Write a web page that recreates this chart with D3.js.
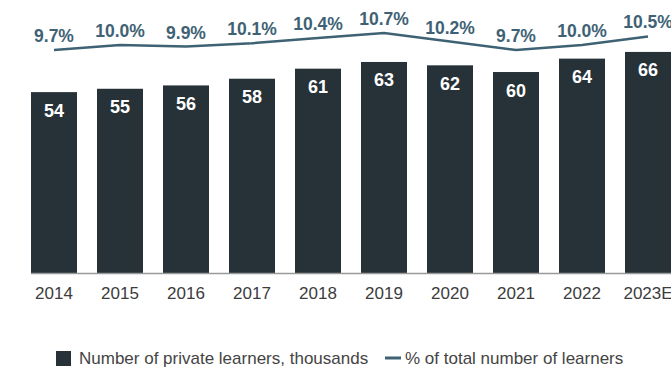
<!DOCTYPE html>
<html>
<head>
<meta charset="utf-8">
<script src="https://cdn.jsdelivr.net/npm/d3@7"></script>
<style>
  html, body { margin: 0; padding: 0; background: #fff; overflow: hidden; }
  svg { display: block; font-family: "Liberation Sans", Arial, Helvetica, sans-serif; }
</style>
</head>
<body>
<svg id="chart" width="671" height="370"></svg>
<script>
const years = ["2014","2015","2016","2017","2018","2019","2020","2021","2022","2023E"];
const learners = [54, 55, 56, 58, 61, 63, 62, 60, 64, 66];
const shares = [9.7, 10.0, 9.9, 10.1, 10.4, 10.7, 10.2, 9.7, 10.0, 10.5];
const legendLabels = ["Number of private learners, thousands", "% of total number of learners"];

const barColor = "#263238";
const lineColor = "#3e6274";

const svg = d3.select("#chart");

const x = d3.scaleBand().domain(years).range([21, 681])
  .paddingInner(20/66).paddingOuter(10/66);
const y = d3.scaleLinear().domain([0, 81.5]).range([273, 0]);
const yLine = d3.scaleLinear().domain([9.7, 10.7]).range([50, 33]);

// bars
svg.append("g").selectAll("rect").data(learners).join("rect")
  .attr("x", (d, i) => x(years[i]))
  .attr("y", d => y(d))
  .attr("width", x.bandwidth())
  .attr("height", d => y(0) - y(d))
  .attr("fill", barColor);

// baseline axis
const xAxis = d3.axisBottom(x).tickSize(0).tickPadding(13.5);
const ax = svg.append("g").attr("transform", `translate(0,${y(0)})`).call(xAxis);
ax.select(".domain").attr("d", `M31,0.5H671`).attr("stroke", "#9a9a9a").attr("stroke-width", 1.5);
ax.selectAll(".tick text")
  .attr("font-size", 17)
  .attr("fill", "#3c3c3c")
  .attr("font-family", "'Liberation Sans', Arial, sans-serif");

// bar value labels
svg.append("g").selectAll("text").data(learners).join("text")
  .attr("x", (d, i) => x(years[i]) + x.bandwidth()/2)
  .attr("y", d => y(d) + 24.5)
  .attr("text-anchor", "middle")
  .attr("font-size", 18)
  .attr("font-weight", "bold")
  .attr("fill", "#ffffff")
  .text(d => d);

// line
const line = d3.line()
  .x((d, i) => x(years[i]) + x.bandwidth()/2)
  .y(d => yLine(d));
svg.append("path").datum(shares)
  .attr("d", line)
  .attr("fill", "none")
  .attr("stroke", lineColor)
  .attr("stroke-width", 2.5);

// line labels
svg.append("g").selectAll("text").data(shares).join("text")
  .attr("x", (d, i) => x(years[i]) + x.bandwidth()/2)
  .attr("y", d => yLine(d) - 14.5 + 6.5)
  .attr("text-anchor", "middle")
  .attr("font-size", 17.5)
  .attr("font-weight", "bold")
  .attr("fill", lineColor)
  .text(d => d.toFixed(1) + "%");

// legend
const lg = svg.append("g");
lg.append("rect").attr("x", 56).attr("y", 351).attr("width", 15).attr("height", 15).attr("fill", barColor);
lg.append("text").attr("x", 79).attr("y", 364).attr("font-size", 17).attr("fill", "#444")
  .text(legendLabels[0]);
lg.append("line").attr("x1", 385).attr("x2", 401).attr("y1", 358).attr("y2", 358)
  .attr("stroke", lineColor).attr("stroke-width", 3);
lg.append("text").attr("x", 405).attr("y", 364).attr("font-size", 17).attr("fill", "#444")
  .text(legendLabels[1]);
</script>
</body>
</html>
